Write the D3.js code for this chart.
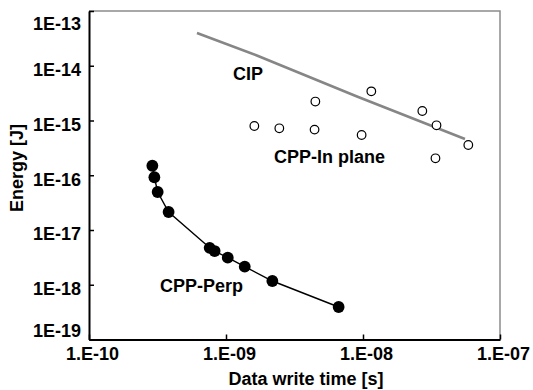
<!DOCTYPE html>
<html><head><meta charset="utf-8">
<script src="https://cdn.jsdelivr.net/npm/d3@7"></script>
<style>
body{margin:0;background:#fff}
svg{display:block}
text{font-family:"Liberation Sans",Arial,Helvetica,sans-serif;font-weight:bold;fill:#000}
</style>
</head><body>
<svg id="c" width="533" height="390"></svg>
<script>
// ---- data ----
const xTicks = [1e-10, 1e-9, 1e-8, 1e-7];
const xTickLabels = ["1.E-10", "1.E-09", "1.E-08", "1.E-07"];
const yTicks = [1e-19, 1e-18, 1e-17, 1e-16, 1e-15, 1e-14, 1e-13];
const yTickLabels = ["1E-19", "1E-18", "1E-17", "1E-16", "1E-15", "1E-14", "1E-13"];

const perpTime   = [2.90e-10, 3.00e-10, 3.17e-10, 3.81e-10, 7.60e-10, 8.26e-10, 1.03e-9, 1.37e-9, 2.18e-9, 6.64e-9];
const perpEnergy = [1.49e-16, 9.2e-17, 4.94e-17, 2.13e-17, 4.73e-18, 4.13e-18, 3.12e-18, 2.14e-18, 1.17e-18, 3.92e-19];

const inPlaneTime   = [1.61e-9, 2.45e-9, 4.49e-9, 4.43e-9, 9.77e-9, 1.15e-8, 2.71e-8, 3.44e-8, 5.87e-8, 3.38e-8];
const inPlaneEnergy = [7.94e-16, 7.21e-16, 2.22e-15, 6.82e-16, 5.43e-16, 3.41e-15, 1.49e-15, 8.17e-16, 3.57e-16, 2.04e-16];

const cipTime   = [6.14e-10, 1.68e-9, 9.04e-9, 5.55e-8];
const cipEnergy = [3.96e-14, 1.54e-14, 2.74e-15, 4.59e-16];

const seriesLabels = ["CIP", "CPP-In plane", "CPP-Perp"];
const xTitle = "Data write time [s]";
const yTitle = "Energy [J]";

// ---- drawing ----
const svg = d3.select("#c");
const L = 89, R = 500, T = 11, B = 339.5;
const x = d3.scaleLog().domain([1e-10, 1e-7]).range([L, R]);
const y = d3.scaleLog().domain([1e-19, 1e-13]).range([B, T]);

// frame (top & right in gray)
svg.append("path")
  .attr("d", `M${L},${T}H${R}V${B}`)
  .attr("fill", "none").attr("stroke", "#8c8c8c").attr("stroke-width", 1.5);

const zip = (a, b) => a.map((v, i) => [v, b[i]]);

// CIP line
svg.append("path")
  .datum(zip(cipTime, cipEnergy))
  .attr("d", d3.line().x(d => x(d[0])).y(d => y(d[1])))
  .attr("fill", "none").attr("stroke", "#868686").attr("stroke-width", 2.6);

// CPP-In plane open circles
svg.append("g").selectAll("circle")
  .data(zip(inPlaneTime, inPlaneEnergy)).join("circle")
  .attr("cx", d => x(d[0])).attr("cy", d => y(d[1])).attr("r", 4.3)
  .attr("fill", "#fff").attr("stroke", "#000").attr("stroke-width", 1.2);

// CPP-Perp line + filled circles
const perp = zip(perpTime, perpEnergy);
svg.append("path")
  .datum(perp)
  .attr("d", d3.line().x(d => x(d[0])).y(d => y(d[1])))
  .attr("fill", "none").attr("stroke", "#000").attr("stroke-width", 1.4);
svg.append("g").selectAll("circle")
  .data(perp).join("circle")
  .attr("cx", d => x(d[0])).attr("cy", d => y(d[1])).attr("r", 5.9)
  .attr("fill", "#000");

// axes
const xa = svg.append("g").attr("transform", `translate(0,${B})`)
  .call(d3.axisBottom(x).tickValues(xTicks).tickFormat((d, i) => xTickLabels[i])
    .tickSizeInner(-5).tickSizeOuter(0).tickPadding(8));
xa.selectAll("text").attr("font-size", 18).attr("dx", 3)
  .style("font-family", '"Liberation Sans",Arial,sans-serif').style("font-weight", "bold");

const ya = svg.append("g").attr("transform", `translate(${L},0)`)
  .call(d3.axisLeft(y).tickValues(yTicks).tickFormat((d, i) => yTickLabels[i])
    .tickSizeInner(-5).tickSizeOuter(0).tickPadding(8));
ya.selectAll("text").attr("font-size", 18).attr("dy", "0.55em")
  .style("font-family", '"Liberation Sans",Arial,sans-serif').style("font-weight", "bold");
ya.selectAll(".tick text").filter(d => d === 1e-13).attr("dy", "1em");
ya.selectAll(".tick text").filter(d => d === 1e-19).attr("dy", "-0.14em");

[xa, ya].forEach(g => {
  g.select(".domain").attr("stroke", "#000").attr("stroke-width", 2);
  g.selectAll(".tick line").attr("stroke", "#000").attr("stroke-width", 1.5);
});

// titles
svg.append("text").attr("x", 306).attr("y", 385).attr("text-anchor", "middle")
  .attr("font-size", 18).text(xTitle);
svg.append("text").attr("transform", "translate(23,168) rotate(-90)")
  .attr("text-anchor", "middle").attr("font-size", 18).text(yTitle);

// series labels
svg.append("text").attr("x", 233).attr("y", 80).attr("font-size", 18).text(seriesLabels[0]);
svg.append("text").attr("x", 274).attr("y", 162.5).attr("font-size", 18).text(seriesLabels[1]);
svg.append("text").attr("x", 160).attr("y", 292).attr("font-size", 18).text(seriesLabels[2]);
</script>
</body></html>
